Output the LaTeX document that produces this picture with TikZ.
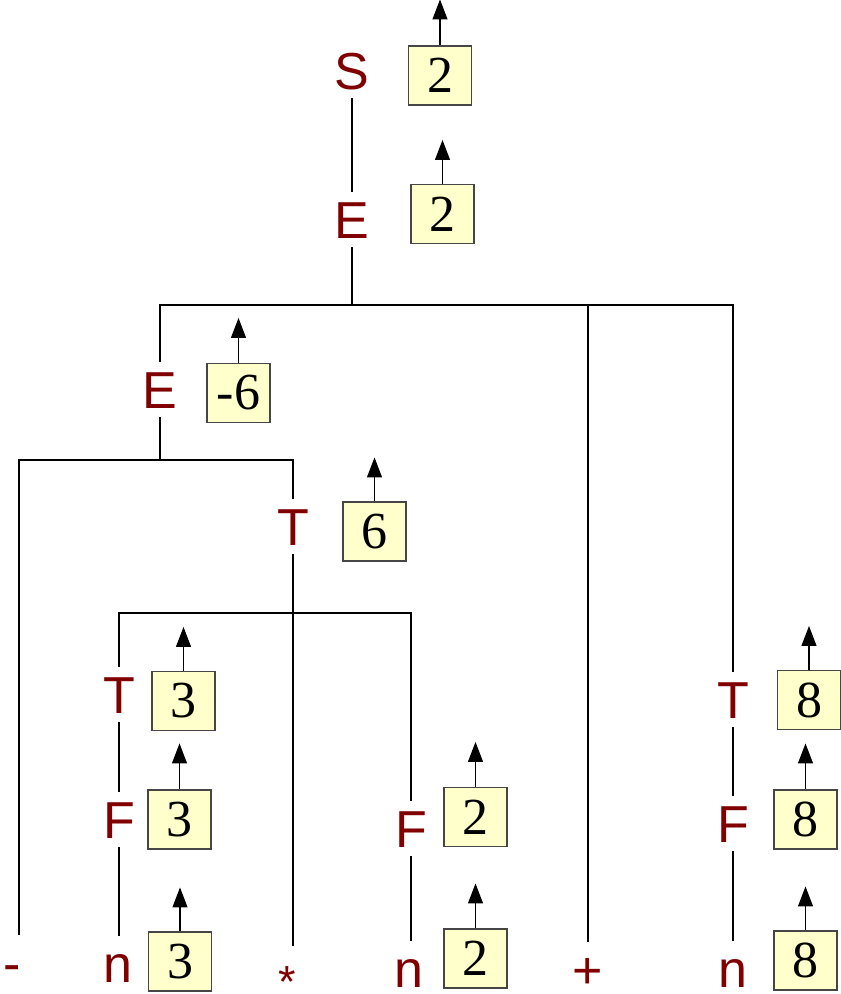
\documentclass[tikz,border=0pt]{standalone}
\usepackage{fontspec}
\newfontfamily\symfont{Liberation Sans}
\newfontfamily\valfont{Liberation Serif}
\usetikzlibrary{arrows.meta}
\definecolor{symred}{RGB}{128,0,0}
\definecolor{valfill}{RGB}{255,255,204}
\definecolor{valdraw}{RGB}{70,70,70}
\begin{document}
\begin{tikzpicture}[x=1pt,y=-1pt,
  sym/.style={font=\symfont\fontsize{52}{60}\selectfont, text=symred, text height=37pt, text depth=0pt, inner xsep=1pt, inner ysep=9pt, anchor=base},
  leaf/.style={sym, text height=46pt, inner ysep=0pt},
  val/.style={draw=valdraw, line width=1.1pt, fill=valfill, font=\valfont\fontsize{52}{60}\selectfont, minimum width=63pt, minimum height=59pt, inner sep=0pt},
  edge/.style={line width=2.4pt, black},
  up/.style={line width=1.2pt, -{Triangle[length=20pt,width=15pt]}}]
\useasboundingbox (0,0) rectangle (841,994);
\fill[white] (0,0) rectangle (841,994);

% symbols
\node[sym] (S) at (352,89) {S};
\node[sym] (E1) at (352,238) {E};
\node[sym] (E2) at (160,408) {E};
\node[sym] (Tm) at (293,545) {T};
\node[sym] (Tl) at (119,713) {T};
\node[sym] (Fl) at (119,838) {F};
\node[leaf] (nl) at (118,982) {n};
\node[leaf] (minus) at (12,981) {-};
\node[leaf, font=\symfont\fontsize{45}{50}\selectfont] (star) at (287,992) {\raisebox{-5pt}{*}};
\node[sym] (Fm) at (411,847) {F};
\node[leaf] (nm) at (409,987) {n};
\node[leaf] (plus) at (588,988) {+};
\node[sym] (Tr) at (733,718) {T};
\node[sym] (Fr) at (733,842) {F};
\node[leaf] (nr) at (733,987) {n};

% values
\node[val] (vS) at (440,75.5) {2};
\node[val] (vE1) at (442.5,214) {2};
\node[val] (vE2) at (238.5,393) {-6};
\node[val] (vTm) at (374.5,531.5) {6};
\node[val] (vTl) at (183.5,701) {3};
\node[val] (vFl) at (179.5,819.5) {3};
\node[val] (vnl) at (180,961.5) {3};
\node[val] (vFm) at (475.5,817) {2};
\node[val] (vnm) at (475.5,958.5) {2};
\node[val] (vTr) at (809,700) {8};
\node[val] (vFr) at (805.5,819.5) {8};
\node[val] (vnr) at (805.5,960.5) {8};

% arrows
\foreach \v/\l in {vS/46,vE1/44,vE2/45,vTm/44,vTl/44,vFl/46,vnl/44,vFm/45,vnm/45,vTr/44,vFr/46,vnr/44}{
  \coordinate (\v-tip) at ([yshift=\l pt]\v.north);
  \draw[up] (\v.north) -- (\v-tip);
}

% tree edges
\coordinate (b1) at (352,305);
\coordinate (b2) at (160,460);
\coordinate (b3) at (293,613);
\draw[edge] (S.south) -- (E1.north);
\draw[edge] (E1.south) -- (b1);
\draw[edge] (E2.north) |- (b1) -| (Tr.north);
\draw[edge] (b1 -| plus.north) -- (plus.north);
\draw[edge] (E2.south) -- (b2);
\draw[edge] ([xshift=7pt]minus.north) |- (b2) -| (Tm.north);
\draw[edge] (Tm.south) -- (Tm.south |- star.north);
\draw[edge] (Tl.north) |- (b3) -| (Fm.north);
\draw[edge] (Tl.south) -- (Fl.north);
\draw[edge] (Fl.south) -- (Fl.south |- nl.north);
\draw[edge] (Fm.south) -- (Fm.south |- nm.north);
\draw[edge] (Tr.south) -- (Fr.north);
\draw[edge] (Fr.south) -- (nr.north);
\end{tikzpicture}
\end{document}
